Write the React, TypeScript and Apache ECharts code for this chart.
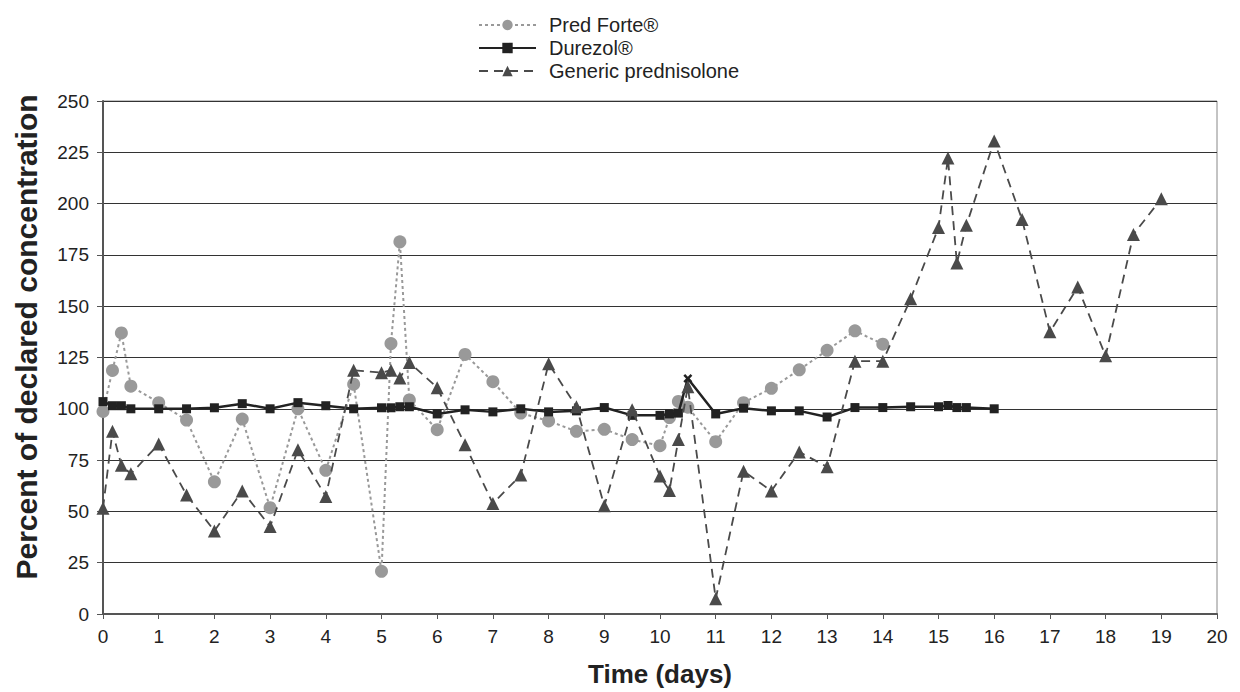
import React, { useEffect, useRef } from "react";
import * as echarts from "echarts";

const seriesNames = ["Pred Forte®", "Durezol®", "Generic prednisolone"];
const xTitle = "Time (days)";
const yTitle = "Percent of declared concentration";

const predDays = [0, 0.17, 0.33, 0.5, 1, 1.5, 2, 2.5, 3, 3.5, 4, 4.5, 5, 5.17, 5.33, 5.5, 6, 6.5, 7, 7.5, 8, 8.5, 9, 9.5, 10, 10.17, 10.33, 10.5, 11, 11.5, 12, 12.5, 13, 13.5, 14];
const predVals = [98.7, 118.7, 137, 111, 103, 94.5, 64.4, 95, 51.8, 100, 70, 112, 20.8, 131.8, 181.4, 104.3, 89.8, 126.5, 113.2, 97.9, 94.1, 89, 90, 85, 82, 95.7, 103.6, 100.8, 84, 103, 110, 119, 128.5, 138, 131.5];

const durDays = [0, 0.17, 0.33, 0.5, 1, 1.5, 2, 2.5, 3, 3.5, 4, 4.5, 5, 5.17, 5.33, 5.5, 6, 6.5, 7, 7.5, 8, 8.5, 9, 9.5, 10, 10.17, 10.33, 10.5, 11, 11.5, 12, 12.5, 13, 13.5, 14, 14.5, 15, 15.17, 15.33, 15.5, 16];
const durVals = [103.5, 101.5, 101.5, 100, 100, 100, 100.5, 102.5, 100, 103, 101.5, 100, 100.5, 100.5, 101, 101, 97.5, 99.5, 98.5, 100, 98.5, 99, 100.6, 96.8, 96.8, 97.5, 97.9, 114.8, 97.5, 100.3, 99, 99, 96, 100.6, 100.6, 101, 101, 101.6, 100.6, 100.6, 100];
const durCrossDay = 10.5;

const genDays = [0, 0.17, 0.33, 0.5, 1, 1.5, 2, 2.5, 3, 3.5, 4, 4.5, 5, 5.17, 5.33, 5.5, 6, 6.5, 7, 7.5, 8, 8.5, 9, 9.5, 10, 10.17, 10.33, 10.5, 11, 11.5, 12, 12.5, 13, 13.5, 14, 14.5, 15, 15.17, 15.33, 15.5, 16, 16.5, 17, 17.5, 18, 18.5, 19];
const genVals = [51.5, 89, 72.5, 68.3, 82.8, 58, 40.5, 60, 42.6, 80, 57.3, 118.8, 117.6, 118.8, 115, 122.6, 110.3, 82.5, 53.8, 67.7, 122, 101, 52.7, 99.5, 67.2, 60.2, 85, 110.8, 7.4, 69.6, 60, 79, 71.7, 123.2, 123.2, 153.6, 188.3, 222.2, 171, 189.4, 230.5, 192.3, 137.5, 159.3, 125.8, 185, 202.4];

const xMin = 0, xMax = 20, xStep = 1;
const yMin = 0, yMax = 250, yStep = 25;

const FONT = "Liberation Sans, Arial, sans-serif";
const CROSS = "path://M2,0 L5,3 L8,0 L10,2 L7,5 L10,8 L8,10 L5,7 L2,10 L0,8 L3,5 L0,2 Z";

export default function App() {
  const ref = useRef<HTMLDivElement>(null);
  useEffect(() => {
    if (!ref.current) return;
    const chart = echarts.init(ref.current, undefined, { renderer: "svg" });
    const pair = (xs: number[], ys: number[]) => xs.map((x, i) => [x, ys[i]]);
    const durData = durDays.map((x, i) =>
      x === durCrossDay
        ? { value: [x, durVals[i]], symbol: CROSS, symbolSize: 9 }
        : [x, durVals[i]]
    );
    chart.setOption({
      animation: false,
      textStyle: { fontFamily: FONT },
      legend: {
        orient: "vertical",
        left: 473,
        top: 10,
        itemWidth: 57,
        itemHeight: 13,
        itemGap: 3,
        textStyle: { fontSize: 20, color: "#222", fontFamily: FONT, padding: [0, 0, 0, 8] },
        data: seriesNames,
      },
      graphic: [
        {
          type: "text",
          x: 26,
          y: 337,
          rotation: Math.PI / 2,
          style: {
            text: yTitle,
            fontSize: 30,
            fontWeight: "bold",
            fontFamily: FONT,
            fill: "#222",
            textAlign: "center",
            textVerticalAlign: "middle",
          },
        },
      ],
      grid: {
        left: 103,
        right: 23,
        top: 101,
        bottom: 75,
        show: true,
        borderColor: "#888",
        borderWidth: 1,
      },
      xAxis: {
        type: "value",
        min: xMin,
        max: xMax,
        interval: xStep,
        name: xTitle,
        nameLocation: "middle",
        nameGap: 47,
        nameTextStyle: { fontSize: 26, fontWeight: "bold", color: "#222", fontFamily: FONT },
        axisLine: { show: true, lineStyle: { color: "#555", width: 2 } },
        axisTick: { show: true, inside: false, length: 5, lineStyle: { color: "#555" } },
        axisLabel: { fontSize: 19, color: "#222", margin: 13, fontFamily: FONT },
        splitLine: { show: false },
      },
      yAxis: {
        type: "value",
        min: yMin,
        max: yMax,
        interval: yStep,
        axisLine: { show: true, lineStyle: { color: "#555", width: 2 } },
        axisTick: { show: true, inside: false, length: 6, lineStyle: { color: "#555" } },
        axisLabel: { fontSize: 19, color: "#222", margin: 14, fontFamily: FONT },
        splitLine: { show: true, lineStyle: { color: "#333", width: 1 } },
      },
      series: [
        {
          name: seriesNames[0],
          type: "line",
          data: pair(predDays, predVals),
          symbol: "circle",
          symbolSize: 13,
          itemStyle: { color: "#999" },
          lineStyle: { color: "#999", width: 2, type: [3, 3] },
          z: 2,
        },
        {
          name: seriesNames[1],
          type: "line",
          data: durData,
          symbol: "rect",
          symbolSize: 9,
          itemStyle: { color: "#222" },
          lineStyle: { color: "#222", width: 2.5, type: "solid" },
          z: 3,
        },
        {
          name: seriesNames[2],
          type: "line",
          data: pair(genDays, genVals),
          symbol: "triangle",
          symbolSize: 13,
          itemStyle: { color: "#4a4a4a" },
          lineStyle: { color: "#4a4a4a", width: 1.8, type: [9, 6] },
          z: 4,
        },
      ],
    });
    return () => chart.dispose();
  }, []);
  return (
    <div
      ref={ref}
      style={{ position: "fixed", left: 0, top: 0, width: 1240, height: 692, background: "#fff" }}
    />
  );
}
